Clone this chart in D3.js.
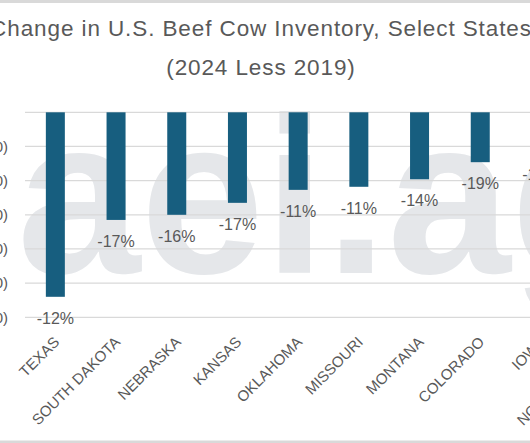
<!DOCTYPE html>
<html>
<head>
<meta charset="utf-8">
<script src="https://cdn.jsdelivr.net/npm/d3@7"></script>
<style>
  html, body { margin: 0; padding: 0; background: #fff; overflow: hidden; }
  svg { display: block; }
  text { font-family: "Liberation Sans", Arial, sans-serif; }
</style>
</head>
<body>
<svg id="chart" width="530" height="443"></svg>
<script>
// ---- data ----
const states = ["TEXAS", "SOUTH DAKOTA", "NEBRASKA", "KANSAS", "OKLAHOMA",
                "MISSOURI", "MONTANA", "COLORADO", "IOWA", "NORTH DAKOTA"];
const headChange = [-540000, -315000, -300000, -265000, -227000,
                    -218000, -196000, -146000, -120000, -110000];
const pctLabels = ["-12%", "-17%", "-16%", "-17%", "-11%",
                   "-11%", "-14%", "-19%", "-13%", "-11%"];
const yTicks = [0, -100000, -200000, -300000, -400000, -500000, -600000];
const titleLines = ["Change in U.S. Beef Cow Inventory, Select States", "(2024 Less 2019)"];
const watermark = "aei.ag";

// ---- layout ----
const W = 530, H = 443;
const plotLeft = 25, step = 60.7;
const plotRight = plotLeft + step * states.length;
const yTop = 112.3, yBottom = 317.3;
const textColor = "#595959";

const svg = d3.select("#chart");

// frame strips
svg.append("rect").attr("x", 0).attr("y", 0).attr("width", W).attr("height", 3).attr("fill", "#d9d9d9");
svg.append("rect").attr("x", 0).attr("y", H - 2.5).attr("width", W).attr("height", 2.5).attr("fill", "#d9d9d9");

// watermark
svg.append("text")
  .attr("x", 17).attr("y", 273)
  .attr("font-size", 222)
  .attr("font-weight", "bold")
  .attr("fill", "#e5e7ea")
  .text(watermark);

const x = d3.scaleBand().domain(states).range([plotLeft, plotRight]).paddingInner(0.687).paddingOuter(0.3435);
const y = d3.scaleLinear().domain([-600000, 0]).range([yBottom, yTop]);

// gridlines
svg.append("g").selectAll("line").data(yTicks).join("line")
  .attr("x1", plotLeft).attr("x2", plotRight)
  .attr("y1", d => y(d)).attr("y2", d => y(d))
  .attr("stroke", "#d9d9d9").attr("stroke-width", 1.3);

// y axis labels
const fmt = d => d === 0 ? "" : "(" + d3.format(",")(Math.abs(d)) + ")";
const yAxis = d3.axisLeft(y).tickValues(yTicks).tickFormat(fmt).tickSize(0).tickPadding(0);
const gy = svg.append("g").attr("transform", "translate(8,0)").call(yAxis);
gy.select(".domain").remove();
gy.selectAll("text").attr("font-size", 15).attr("fill", textColor)
  .style("font-family", "'Liberation Sans', Arial, sans-serif");

// bars
svg.append("g").selectAll("rect").data(states).join("rect")
  .attr("x", d => x(d))
  .attr("width", x.bandwidth())
  .attr("y", y(0))
  .attr("height", (d, i) => y(headChange[i]) - y(0))
  .attr("fill", "#175e7f");

// data labels
svg.append("g").selectAll("text").data(states).join("text")
  .attr("x", d => x(d) + x.bandwidth() / 2)
  .attr("y", (d, i) => y(headChange[i]) + 27)
  .attr("text-anchor", "middle")
  .attr("font-size", 16)
  .attr("fill", textColor)
  .text((d, i) => pctLabels[i]);

// x axis labels
const xAxis = d3.axisBottom(x).tickSize(0).tickPadding(0);
const gx = svg.append("g").attr("transform", "translate(0,0)").call(xAxis);
gx.select(".domain").remove();
gx.selectAll(".tick text")
  .attr("x", 0).attr("y", 0).attr("dy", 0)
  .attr("text-anchor", "end")
  .attr("transform", "translate(5,343) rotate(-45)")
  .attr("font-size", 15)
  .attr("fill", textColor)
  .style("font-family", "'Liberation Sans', Arial, sans-serif");

// title
svg.append("g").selectAll("text").data(titleLines).join("text")
  .attr("x", 261)
  .attr("y", (d, i) => i === 0 ? 36 : 75)
  .attr("text-anchor", "middle")
  .attr("font-size", 22.5)
  .attr("letter-spacing", 0.9)
  .attr("fill", textColor)
  .text(d => d);
</script>
</body>
</html>
